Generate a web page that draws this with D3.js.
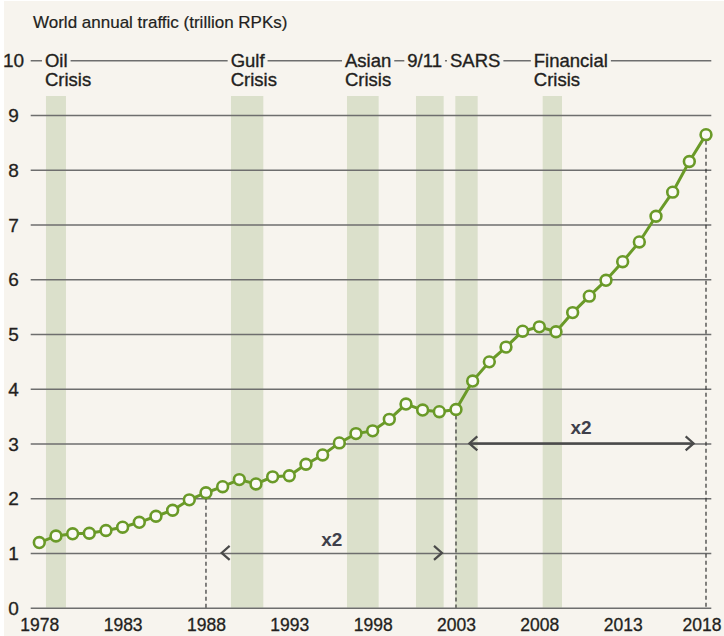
<!DOCTYPE html>
<html>
<head>
<meta charset="utf-8">
<script src="https://cdn.jsdelivr.net/npm/d3@7"></script>
<style>
  html, body { margin: 0; padding: 0; background: #ffffff; }
  svg { display: block; }
</style>
</head>
<body>
<svg id="chart" width="724" height="636"></svg>
<script>
// ---- data ----
const years = [1978,1979,1980,1981,1982,1983,1984,1985,1986,1987,1988,1989,1990,1991,1992,1993,1994,1995,1996,1997,
               1998,1999,2000,2001,2002,2003,2004,2005,2006,2007,2008,2009,2010,2011,2012,2013,2014,2015,2016,2017,2018];
const traffic = [1.19,1.31,1.35,1.36,1.41,1.47,1.56,1.67,1.78,1.97,2.10,2.21,2.34,2.26,2.39,2.41,2.62,2.79,3.01,3.18,
                 3.23,3.44,3.72,3.61,3.58,3.62,4.14,4.49,4.76,5.05,5.13,5.04,5.39,5.69,5.98,6.32,6.68,7.15,7.59,8.15,8.64];
const xTicks = [1978,1983,1988,1993,1998,2003,2008,2013,2018];
const yTicks = [0,1,2,3,4,5,6,7,8,9,10];
const eventNames = [["Oil","Crisis"],["Gulf","Crisis"],["Asian","Crisis"],["9/11"],["SARS"],["Financial","Crisis"]];
const eventStart = [1978.4,1989.5,1996.46,2000.6,2002.96,2008.2];
const eventEnd   = [1979.6,1991.44,1998.36,2002.26,2004.3,2009.36];
const eventLabelAt = [1978.34,1989.48,1996.34,2000.08,2002.64,2007.67];
const dashedYears = [1988,2003,2018];
const doublings = [{from:1988, to:2003, tipFrom:1988.94, tipTo:2002.16, level:1, label:"x2", labelAt:1995.55, labelY:1.12},
                   {from:2003, to:2018, tipFrom:2003.8, tipTo:2017.26, level:3, label:"x2", labelAt:2010.5, labelY:3.17}];
const title = "World annual traffic (trillion RPKs)";

// ---- layout ----
const W = 724, H = 636;
const svg = d3.select("#chart");
const bg = "#f7f4ee";
const x = d3.scaleLinear().domain([1978, 2018]).range([39.3, 706]);
const y = d3.scaleLinear().domain([0, 10]).range([607.7, 60.2]);
const gridL = 30.7, gridR = 711.3;
const textCol = "#231f20";
const font = "'Liberation Sans', Arial, sans-serif";

svg.append("rect").attr("x", 4).attr("y", 1).attr("width", W - 4).attr("height", H - 1).attr("fill", bg);

// title
svg.append("text").attr("x", 33).attr("y", 28)
  .attr("font-family", "'Liberation Sans Narrow', 'Liberation Sans', sans-serif")
  .attr("font-size", 17).attr("fill", textCol).attr("stroke", textCol).attr("stroke-width", 0.2).text(title);

// bands
svg.append("g").selectAll("rect").data(eventStart).join("rect")
  .attr("x", (d) => x(d))
  .attr("width", (d, i) => x(eventEnd[i]) - x(d))
  .attr("y", 96).attr("height", y(0) - 96)
  .attr("fill", "#dbe0cb");

// gridlines via axis
const yAxis = d3.axisLeft(y).tickValues(yTicks).tickSize(-(gridR - gridL)).tickFormat(d3.format("d"));
const gy = svg.append("g").attr("transform", `translate(${gridL},0)`).call(yAxis);
gy.select(".domain").remove();
gy.selectAll(".tick line").attr("stroke", "#6e6e6e").attr("stroke-width", 1.6);
gy.selectAll(".tick text")
  .attr("x", 13.5 - gridL).attr("text-anchor", "middle")
  .attr("font-family", font).attr("font-size", 19).attr("fill", textCol)
  .attr("stroke", textCol).attr("stroke-width", 0.3).attr("dy", "0.35em");

// x axis labels
const xAxis = d3.axisBottom(x).tickValues(xTicks).tickSize(0).tickFormat(d3.format("d"));
const gx = svg.append("g").attr("transform", `translate(0,${y(0)})`).call(xAxis);
gx.select(".domain").remove();
gx.selectAll(".tick text").attr("y", 23).attr("dy", 0)
  .attr("font-family", font).attr("font-size", 17.5).attr("fill", textCol)
  .attr("stroke", textCol).attr("stroke-width", 0.3);
gx.selectAll(".tick").filter((d) => d === 2018).select("text")
  .attr("text-anchor", "end").attr("x", (W - 3) - x(2018));

// event labels with background knockout on the 10-line
const labG = svg.append("g");
eventNames.forEach((lines, i) => {
  const g = labG.append("g");
  const t = g.append("text").attr("font-family", font).attr("font-size", 18.5)
    .attr("fill", textCol).attr("stroke", textCol).attr("stroke-width", 0.35);
  lines.forEach((ln, j) => {
    t.append("tspan").attr("x", x(eventLabelAt[i])).attr("y", 67 + j * 19).text(ln);
  });
  const firstW = t.select("tspan").node().getComputedTextLength();
  g.insert("rect", "text").attr("x", x(eventLabelAt[i]) - 3).attr("y", 50)
    .attr("width", firstW + 6).attr("height", 20).attr("fill", bg);
});

// dashed verticals
svg.append("g").selectAll("line").data(dashedYears).join("line")
  .attr("x1", (d) => x(d)).attr("x2", (d) => x(d))
  .attr("y1", (d) => y(traffic[years.indexOf(d)]) + 6).attr("y2", y(0))
  .attr("stroke", "#333").attr("stroke-width", 1.2).attr("stroke-dasharray", "4,3");

// doubling arrows
doublings.forEach((dd, k) => {
  const g = svg.append("g").attr("stroke", "#4a4a4a").attr("stroke-width", 2.2).attr("fill", "none");
  const yy = y(dd.level);
  if (k === 1) {
    g.append("line").attr("x1", x(dd.tipFrom)).attr("x2", x(dd.tipTo)).attr("y1", yy).attr("y2", yy).attr("stroke-width", 2.6);
  }
  const a = 8, hh = 7;
  g.append("path").attr("d", `M${x(dd.tipFrom) + a},${yy - hh} L${x(dd.tipFrom)},${yy} L${x(dd.tipFrom) + a},${yy + hh}`);
  g.append("path").attr("d", `M${x(dd.tipTo) - a},${yy - hh} L${x(dd.tipTo)},${yy} L${x(dd.tipTo) - a},${yy + hh}`);
  svg.append("text").attr("x", x(dd.labelAt)).attr("y", y(dd.labelY))
    .attr("text-anchor", "middle").attr("font-family", font).attr("font-weight", "bold")
    .attr("font-size", 19).attr("fill", "#3f3f4a").text(dd.label);
});

// line + points
const pts = years.map((yr, i) => [yr, traffic[i]]);
svg.append("path").datum(pts)
  .attr("d", d3.line().x((d) => x(d[0])).y((d) => y(d[1])))
  .attr("fill", "none").attr("stroke", "#6a9a28").attr("stroke-width", 3);
svg.append("g").selectAll("circle").data(pts).join("circle")
  .attr("cx", (d) => x(d[0])).attr("cy", (d) => y(d[1])).attr("r", 5.4)
  .attr("fill", "#fbfaf6").attr("stroke", "#6a9a28").attr("stroke-width", 2.6);
</script>
</body>
</html>
